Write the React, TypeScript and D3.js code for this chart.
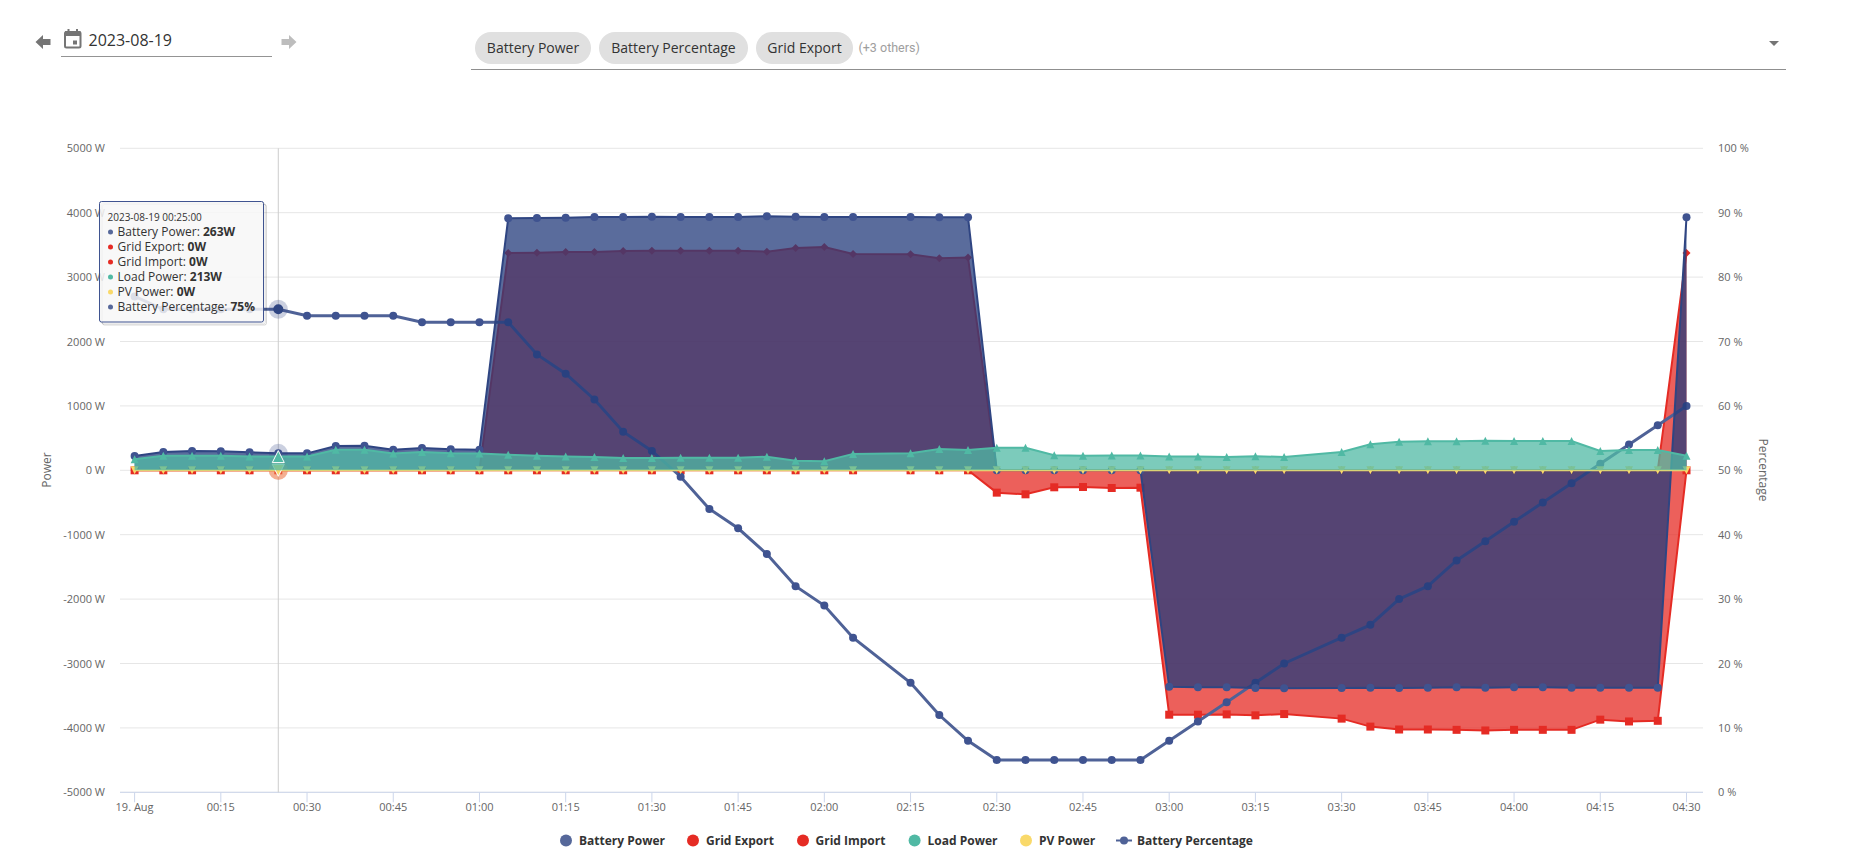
import React, { useEffect, useRef } from 'react';
import * as d3 from 'd3';

const times = [
  '00:00', '00:05', '00:10', '00:15', '00:20', '00:25', '00:30', '00:35', '00:40', '00:45', '00:50', '00:55', '01:00',
  '01:05', '01:10', '01:15', '01:20', '01:25', '01:30', '01:35', '01:40', '01:45', '01:50', '01:55', '02:00', '02:05',
  '02:15', '02:20', '02:25',
  '02:30', '02:35', '02:40', '02:45', '02:50', '02:55',
  '03:00', '03:05', '03:10', '03:15', '03:20',
  '03:30', '03:35', '03:40', '03:45', '03:50', '03:55', '04:00', '04:05', '04:10', '04:15', '04:20', '04:25',
  '04:30',
];

const batteryPower = [
  222, 284, 300, 295, 280, 263, 263, 378, 383, 320, 347, 326, 320,
  3913, 3918, 3923, 3934, 3934, 3939, 3934, 3934, 3934, 3944, 3939, 3934, 3934,
  3934, 3928, 3928,
  0, 0, 0, 0, 0, 0,
  -3360, -3370, -3370, -3380, -3385,
  -3380, -3375, -3380, -3375, -3370, -3375, -3370, -3370, -3375, -3375, -3375, -3375,
  3930,
];

const gridExport = [
  0, 0, 0, 0, 0, 0, 0, 0, 0, 0, 0, 0, 0,
  3374, 3379, 3390, 3390, 3405, 3410, 3410, 3410, 3410, 3395, 3450, 3467, 3359,
  3354, 3292, 3303,
  0, 0, 0, 0, 0, 0,
  0, 0, 0, 0, 0,
  0, 0, 0, 0, 0, 0, 0, 0, 0, 0, 0, 0,
  3374,
];

const gridImport = [
  0, 0, 0, 0, 0, 0, 0, 0, 0, 0, 0, 0, 0,
  0, 0, 0, 0, 0, 0, 0, 0, 0, 0, 0, 0, 0,
  0, 0, 0,
  -347, -373, -264, -259, -275, -270,
  -3795, -3795, -3790, -3805, -3785,
  -3856, -3980, -4025, -4025, -4030, -4040, -4030, -4030, -4030, -3872, -3900, -3890,
  0,
];

const loadPower = [
  170, 225, 225, 225, 213, 213, 215, 320, 320, 260, 285, 265, 260,
  240, 225, 215, 205, 190, 190, 195, 195, 195, 210, 150, 140, 255,
  265, 330, 315,
  350, 350, 235, 225, 230, 230,
  215, 215, 205, 220, 205,
  285, 405, 445, 450, 450, 460, 455, 455, 455, 300, 315, 315,
  225,
];

const pvPower = times.map(() => 0);

const batteryPercentage = [
  77, 75, 75, 75, 75, 75, 74, 74, 74, 74, 73, 73, 73,
  73, 68, 65, 61, 56, 53, 49, 44, 41, 37, 32, 29, 24,
  17, 12, 8,
  5, 5, 5, 5, 5, 5,
  8, 11, 14, 17, 20,
  24, 26, 30, 32, 36, 39, 42, 45, 48, 51, 54, 57,
  60,
];

const powerTicks = [5000, 4000, 3000, 2000, 1000, 0, -1000, -2000, -3000, -4000, -5000];
const percentTicks = [0, 10, 20, 30, 40, 50, 60, 70, 80, 90, 100];
const selectedChips = ['Battery Power', 'Battery Percentage', 'Grid Export'];
const legendNames = ['Battery Power', 'Grid Export', 'Grid Import', 'Load Power', 'PV Power', 'Battery Percentage'];
const tooltipRows = [
  { name: 'Battery Power', value: '263W' },
  { name: 'Grid Export', value: '0W' },
  { name: 'Grid Import', value: '0W' },
  { name: 'Load Power', value: '213W' },
  { name: 'PV Power', value: '0W' },
  { name: 'Battery Percentage', value: '75%' },
];
const hoverTime = '00:25';

const FONT = '"Open Sans", sans-serif';
const BLUE_AREA = '#233b7b';
const BLUE_LINE = '#2f4582';
const BLUE_MARKER = '#3f5390';
const BLUE_PCT = '#4f6297';
const BLUE_LEGEND = '#56689a';
const RED = '#e52b24';
const TEAL = '#50b9a4';
const YELLOW = '#f9d96a';

// same marker shapes as the chart library: box of 2r centred on the point
const markerPath = (shape: string, x: number, y: number, r: number) => {
  if (shape === 'square') return `M${x - r},${y - r}H${x + r}V${y + r}H${x - r}Z`;
  if (shape === 'diamond') return `M${x},${y - r}L${x + r},${y}L${x},${y + r}L${x - r},${y}Z`;
  if (shape === 'triangle') return `M${x},${y - r}L${x + r},${y + r}H${x - r}Z`;
  if (shape === 'triangle-down') return `M${x - r},${y - r}H${x + r}L${x},${y + r}Z`;
  return `M${x - r},${y}A${r},${r} 0 1 1 ${x + r},${y}A${r},${r} 0 1 1 ${x - r},${y}Z`;
};

const App: React.FC = () => {
  const svgRef = useRef<SVGSVGElement>(null);

  useEffect(() => {
    if (!svgRef.current) return;
    const svg = d3.select(svgRef.current);
    svg.selectAll('*').remove();

    const left = 120;
    const right = 1703;
    const top = 148.3;
    const bottom = 792.3;

    const parse = d3.utcParse('%H:%M');
    const dates = times.map((t) => parse(t) as Date);

    const x = d3.scaleUtc()
      .domain([parse('00:00') as Date, parse('04:30') as Date])
      .range([134.6, 1686.5]);
    const y = d3.scaleLinear().domain([-5000, 5000]).range([bottom, top]);
    const yPct = d3.scaleLinear().domain([0, 100]).range([bottom, top]);

    // grid
    svg.append('g').selectAll('line').data(powerTicks).join('line')
      .attr('x1', left).attr('x2', right)
      .attr('y1', (d) => y(d)).attr('y2', (d) => y(d))
      .attr('stroke', '#e6e6e6').attr('stroke-width', 1);

    // left axis labels
    svg.append('g').selectAll('text').data(powerTicks).join('text')
      .attr('x', 105).attr('y', (d) => y(d) + 4)
      .attr('text-anchor', 'end')
      .style('font', `11px ${FONT}`).style('fill', '#666666')
      .text((d) => `${d} W`);

    // right axis labels
    svg.append('g').selectAll('text').data(percentTicks).join('text')
      .attr('x', 1718).attr('y', (d) => yPct(d) + 4)
      .style('font', `11px ${FONT}`).style('fill', '#666666')
      .text((d) => `${d} %`);

    svg.append('text')
      .attr('transform', 'translate(51,470) rotate(-90)')
      .attr('text-anchor', 'middle')
      .style('font', `12px ${FONT}`).style('fill', '#666666')
      .text('Power');
    svg.append('text')
      .attr('transform', 'translate(1759,470) rotate(90)')
      .attr('text-anchor', 'middle')
      .style('font', `12px ${FONT}`).style('fill', '#666666')
      .text('Percentage');

    // x axis
    const xTicks = d3.utcMinute.range(parse('00:00') as Date, d3.utcMinute.offset(parse('04:30') as Date, 1), 15);
    svg.append('line')
      .attr('x1', left).attr('x2', right).attr('y1', bottom).attr('y2', bottom)
      .attr('stroke', '#ccd6eb');
    svg.append('g').selectAll('line').data(xTicks).join('line')
      .attr('x1', (d) => x(d)).attr('x2', (d) => x(d))
      .attr('y1', bottom).attr('y2', bottom + 10)
      .attr('stroke', '#ccd6eb');
    const fmt = d3.utcFormat('%H:%M');
    svg.append('g').selectAll('text').data(xTicks).join('text')
      .attr('x', (d) => x(d)).attr('y', 811)
      .attr('text-anchor', 'middle')
      .style('font', `11px ${FONT}`).style('fill', '#666666')
      .text((d, i) => (i === 0 ? '19. Aug' : fmt(d)));

    // crosshair
    const hx = x(parse(hoverTime) as Date);
    svg.append('line')
      .attr('x1', hx).attr('x2', hx).attr('y1', top).attr('y2', bottom)
      .attr('stroke', '#cccccc').attr('stroke-width', 1);

    const hi = times.indexOf(hoverTime);

    const drawArea = (values: number[], color: string, lineColor: string, markerColor: string, shape: string, r: number) => {
      const area = d3.area<number>()
        .x((_, i) => x(dates[i]))
        .y0(y(0))
        .y1((d) => y(d));
      const line = d3.line<number>()
        .x((_, i) => x(dates[i]))
        .y((d) => y(d));
      const g = svg.append('g');
      g.append('path').attr('d', area(values)).attr('fill', color).attr('fill-opacity', 0.75);
      g.append('path').attr('d', line(values)).attr('fill', 'none').attr('stroke', lineColor).attr('stroke-width', 2);
      g.selectAll('path.m').data(values).join('path')
        .attr('class', 'm')
        .attr('d', (d, i) => markerPath(shape, x(dates[i]), y(d), r))
        .attr('fill', markerColor);
    };

    const drawHalo = (cy: number, color: string, r = 9.5) => {
      svg.append('circle').attr('cx', hx).attr('cy', cy).attr('r', r)
        .attr('fill', color).attr('fill-opacity', 0.25);
    };

    // drawing order matters: the translucent fills blend into the purple and teal mixes
    drawArea(gridExport, RED, RED, RED, 'diamond', 4);
    drawHalo(y(gridExport[hi]), RED);
    drawArea(gridImport, RED, RED, RED, 'square', 4);
    drawHalo(y(gridImport[hi]), RED);

    const pctLine = d3.line<number>()
      .x((_, i) => x(dates[i]))
      .y((d) => yPct(d));
    svg.append('path').attr('d', pctLine(batteryPercentage))
      .attr('fill', 'none').attr('stroke', BLUE_PCT).attr('stroke-width', 3);
    svg.append('g').selectAll('path').data(batteryPercentage).join('path')
      .attr('d', (d, i) => markerPath('circle', x(dates[i]), yPct(d), 4))
      .attr('fill', BLUE_MARKER);
    drawHalo(yPct(batteryPercentage[hi]), BLUE_LINE);
    svg.append('path').attr('d', markerPath('circle', hx, yPct(batteryPercentage[hi]), 5)).attr('fill', BLUE_LINE);

    drawArea(batteryPower, BLUE_AREA, BLUE_LINE, BLUE_MARKER, 'circle', 4);
    drawHalo(y(batteryPower[hi]), BLUE_LINE);

    drawArea(pvPower, YELLOW, YELLOW, YELLOW, 'triangle-down', 4);
    drawHalo(y(pvPower[hi]), YELLOW);
    svg.append('path').attr('d', markerPath('triangle-down', hx, y(pvPower[hi]), 6))
      .attr('fill', YELLOW).attr('stroke', '#ffffff').attr('stroke-width', 1);

    drawArea(loadPower, TEAL, TEAL, TEAL, 'triangle', 4);
    svg.append('path').attr('d', markerPath('triangle', hx, y(loadPower[hi]), 6))
      .attr('fill', TEAL).attr('stroke', '#ffffff').attr('stroke-width', 1);

    // legend
    const legendX = [566, 693, 803, 914.6, 1026, 1124];
    const legendTextX = [579, 706, 815.5, 927.5, 1039, 1137];
    const legendColors = [BLUE_LEGEND, RED, RED, TEAL, YELLOW, BLUE_PCT];
    const legend = svg.append('g');
    legendNames.forEach((name, i) => {
      if (name === 'Battery Percentage') {
        legend.append('line')
          .attr('x1', legendX[i] - 8).attr('x2', legendX[i] + 8)
          .attr('y1', 840.5).attr('y2', 840.5)
          .attr('stroke', legendColors[i]).attr('stroke-width', 2);
        legend.append('circle').attr('cx', legendX[i]).attr('cy', 840.5).attr('r', 4).attr('fill', legendColors[i]);
      } else {
        legend.append('circle').attr('cx', legendX[i]).attr('cy', 840.5).attr('r', 6).attr('fill', legendColors[i]);
      }
      legend.append('text')
        .attr('x', legendTextX[i]).attr('y', 845)
        .style('font', `bold 12px ${FONT}`).style('fill', '#333333')
        .text(name);
    });

    // tooltip
    const tip = svg.append('g').attr('transform', 'translate(99.5,201.5)');
    [3, 2, 1].forEach((o) => {
      tip.append('rect')
        .attr('x', o).attr('y', o).attr('width', 164).attr('height', 120.5).attr('rx', 2)
        .attr('fill', 'none').attr('stroke', '#000000').attr('stroke-opacity', 0.05 * o).attr('stroke-width', 1);
    });
    tip.append('rect')
      .attr('width', 164).attr('height', 120.5).attr('rx', 2)
      .attr('fill', '#f7f7f7').attr('fill-opacity', 0.85)
      .attr('stroke', '#3f5390').attr('stroke-width', 1);
    tip.append('text')
      .attr('x', 8).attr('y', 19)
      .style('font', `10px ${FONT}`).style('fill', '#333333')
      .text(`2023-08-19 ${hoverTime}:00`);
    const tipColors = [BLUE_LEGEND, RED, RED, TEAL, YELLOW, BLUE_LEGEND];
    tooltipRows.forEach((row, i) => {
      const rowY = 30 + i * 15;
      tip.append('circle').attr('cx', 11).attr('cy', rowY + 0.5).attr('r', 2.5).attr('fill', tipColors[i]);
      const t = tip.append('text').attr('x', 18).attr('y', rowY + 4.5)
        .style('font', `12px ${FONT}`).style('fill', '#333333');
      t.append('tspan').text(`${row.name}: `);
      t.append('tspan').style('font-weight', 'bold').text(row.value);
    });

    // date picker
    const header = svg.append('g');
    header.append('path').attr('d', 'M35.5,42L43,35V39H50.5V45H43V49Z').attr('fill', '#757575');
    header.append('path').attr('d', 'M296.5,42L289,35V39H281.5V45H289V49Z').attr('fill', '#bdbdbd');
    header.append('rect').attr('x', 65).attr('y', 32).attr('width', 15.5).attr('height', 15.5).attr('rx', 1.5)
      .attr('fill', 'none').attr('stroke', '#757575').attr('stroke-width', 2);
    header.append('rect').attr('x', 65).attr('y', 31).attr('width', 15.5).attr('height', 5).attr('fill', '#757575');
    header.append('rect').attr('x', 67.5).attr('y', 29).attr('width', 2).attr('height', 3).attr('fill', '#757575');
    header.append('rect').attr('x', 76).attr('y', 29).attr('width', 2).attr('height', 3).attr('fill', '#757575');
    header.append('rect').attr('x', 73).attr('y', 40.5).attr('width', 4).attr('height', 4).attr('fill', '#757575');
    header.append('text').attr('x', 88.5).attr('y', 46)
      .style('font', `16px ${FONT}`).style('fill', '#333333').text('2023-08-19');
    header.append('line').attr('x1', 61).attr('x2', 272).attr('y1', 56.5).attr('y2', 56.5).attr('stroke', '#949494');

    // series selector
    const chipX = [475, 599, 756];
    const chipW = [116, 149, 97];
    selectedChips.forEach((name, i) => {
      header.append('rect')
        .attr('x', chipX[i]).attr('y', 32).attr('width', chipW[i]).attr('height', 32).attr('rx', 16)
        .attr('fill', '#e0e0e0');
      header.append('text')
        .attr('x', chipX[i] + chipW[i] / 2).attr('y', 53)
        .attr('text-anchor', 'middle')
        .style('font', `14px ${FONT}`).style('fill', '#333333')
        .text(name);
    });
    header.append('text').attr('x', 858.5).attr('y', 52)
      .style('font', '12.5px Roboto, sans-serif').style('fill', '#9e9e9e').text('(+3 others)');
    header.append('line').attr('x1', 471).attr('x2', 1786).attr('y1', 69.5).attr('y2', 69.5).attr('stroke', '#8f8f8f');
    header.append('path').attr('d', 'M1769,41H1779L1774,46Z').attr('fill', '#757575');
  }, []);

  return (
    <svg
      ref={svgRef}
      width={1853}
      height={853}
      style={{ position: 'absolute', left: 0, top: 0, display: 'block', background: '#fff' }}
    />
  );
};

export default App;
